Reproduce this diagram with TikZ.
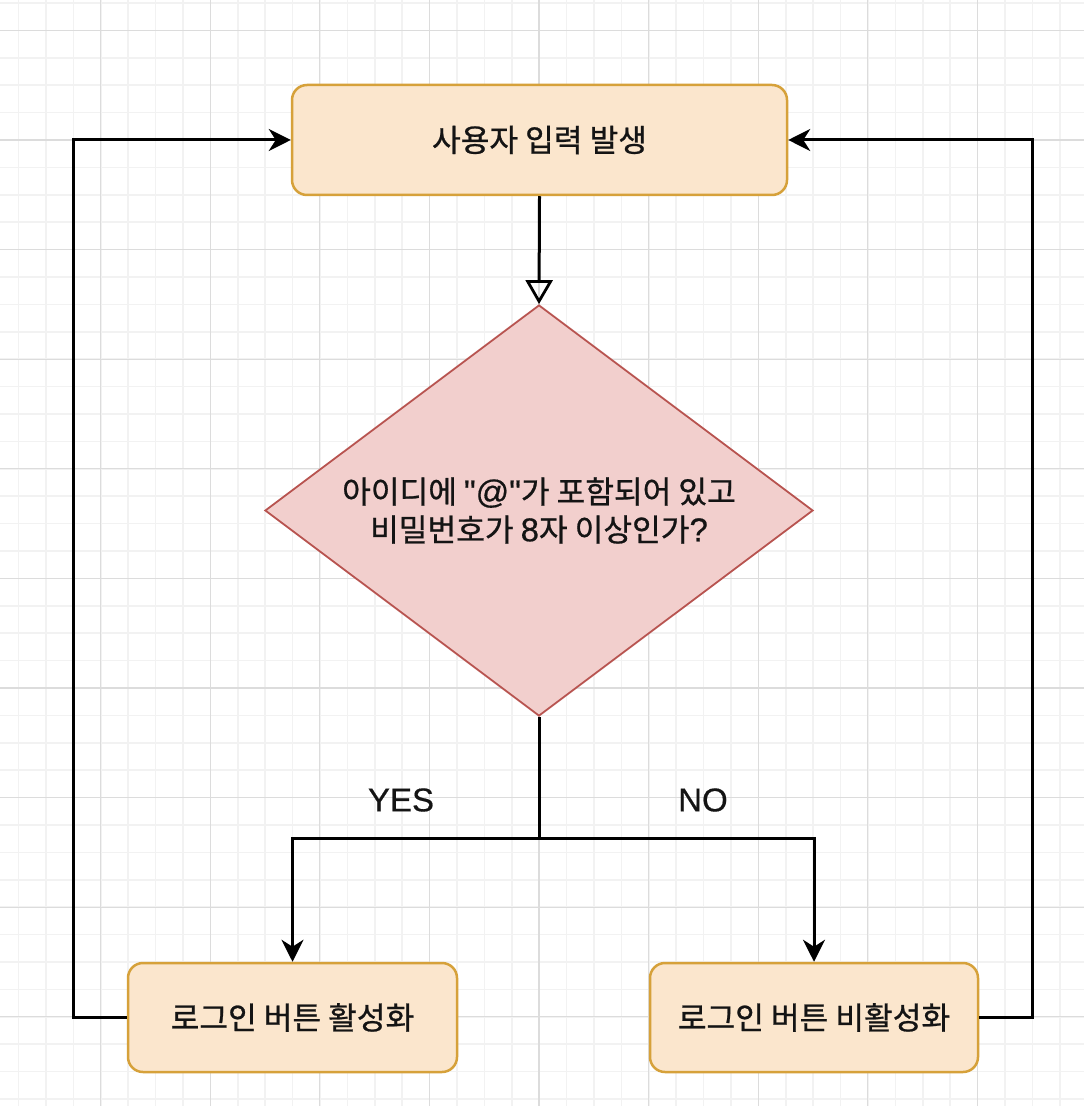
\documentclass[tikz,border=0pt]{standalone}
\usepackage{fontspec}
\setmainfont{Liberation Sans}
\newfontfamily\latf[FakeBold=0.5]{Liberation Sans}
\newfontfamily\kr[FakeBold=0.8]{Noto Sans CJK KR}
\usetikzlibrary{shapes.geometric,arrows.meta}
\definecolor{boxfill}{HTML}{FBE6CD}
\definecolor{boxline}{HTML}{D6A13A}
\definecolor{diafill}{HTML}{F2CFCD}
\definecolor{dialine}{HTML}{B85450}
\definecolor{gridminor}{HTML}{F2F2F2}
\definecolor{gridmajor}{HTML}{DCDCDC}
\tikzset{
  procbox/.style={draw=boxline, fill=boxfill, line width=1.25pt, rounded corners=7.5pt,
    inner sep=0pt, font=\kr\fontsize{15.6}{20}\selectfont, text=black!92},
  decision/.style={shape=diamond, draw=dialine, fill=diafill, line width=0.9pt,
    inner sep=0pt, aspect=1.333, minimum width=274pt, minimum height=205.5pt,
    align=center, font=\kr\fontsize{15.6}{20}\selectfont, text=black!92},
  conn/.style={line width=1.5pt, black},
  arr/.style={conn, -{Stealth[length=11pt, width=11pt, inset=3.5pt]}},
  openarr/.style={conn, -{Triangle[open, length=12pt, width=13.5pt, line width=1.4pt]}},
  lbl/.style={font=\latf\fontsize{16.5}{20}\selectfont, text=black!92},
}
\newcommand{\lat}[1]{{\latf\fontsize{16.5}{20}\selectfont #1}}
\begin{document}
\begin{tikzpicture}[x=0.5pt, y=-0.5pt]
\useasboundingbox (0,0) rectangle (1084,1106);
\begin{scope}
\clip (0,0) rectangle (1084,1106);
\fill[white] (0,0) rectangle (1084,1106);
\foreach \x in {-8.8,18.6,...,1100}
  \draw[gridminor, line width=0.8pt] (\x,0) -- (\x,1106);
\foreach \y in {3,30.4,...,1120}
  \draw[gridminor, line width=0.8pt] (0,\y) -- (1084,\y);
\foreach \x in {100.6,210.2,...,1100}
  \draw[gridmajor, line width=0.6pt] (\x,0) -- (\x,1106);
\foreach \y in {30.4,140,...,1120}
  \draw[gridmajor, line width=0.6pt] (0,\y) -- (1084,\y);
\end{scope}

\node[procbox, minimum width=247.5pt, minimum height=55pt] (top) at (539.5,140) {사용자 입력 발생};
\node[decision] (dia) at (539,510.5) {아이디에 \lat{"@"}가 포함되어 있고\\[-1pt]비밀번호가 \lat{8}자 이상인가\lat{?}};
\node[procbox, minimum width=164.5pt, minimum height=54.5pt] (lbox) at (292.5,1017.5) {로그인 버튼 활성화};
\node[procbox, minimum width=164pt, minimum height=54.5pt] (rbox) at (814,1017.5) {로그인 버튼 비활성화};

\node[lbl] (yes) at (401,800) {YES};
\node[lbl] (no) at (703,800) {NO};

\coordinate (split) at (539,838);
\coordinate (lc) at (73,1017.5);
\coordinate (rc) at (1032,1017.5);

\draw[openarr] (top.south) -- (dia.north);
\draw[conn] (dia.south) -- (split);
\draw[arr] (split) -| (lbox.north);
\draw[arr] (split) -| (rbox.north);
\draw[arr] (lbox.west) -- (lc) |- (top.west);
\draw[arr] (rbox.east) -- (rc) |- (top.east);
\end{tikzpicture}
\end{document}
